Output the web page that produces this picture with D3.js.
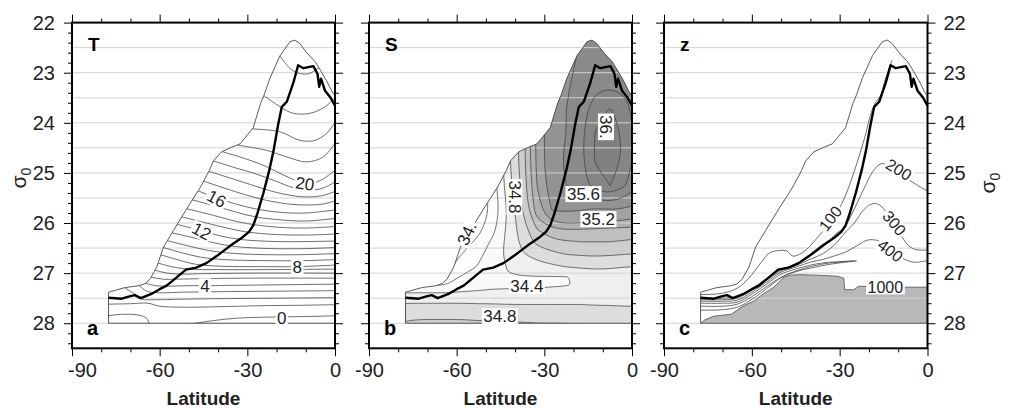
<!DOCTYPE html>
<html>
<head>
<meta charset="utf-8">
<script src="https://cdn.jsdelivr.net/npm/d3@7"></script>
<style>
  body { margin: 0; background: #fff; }
  text { font-family: "Liberation Sans", Arial, Helvetica, sans-serif; }
</style>
</head>
<body>
<svg id="fig" width="1010" height="409"></svg>
<script>
// axes
var latMajor = [-90, -60, -30, 0];
var latMinor = [-80, -70, -50, -40, -20, -10];
var sigMajor = [22, 23, 24, 25, 26, 27, 28];
var sigGrid = [22.5, 23, 23.5, 24, 24.5, 25, 25.5, 26, 26.5, 27, 27.5, 28];

// top of the data (outcrop) and the thick line, [lat, sigma0]
var outcrop = [[-77.5,27.38],[-72,27.29],[-67,27.25],[-65,27.21],[-63.3,27.12],[-61,26.88],[-58.7,26.48],
  [-55.3,26.15],[-50.8,25.72],[-46.2,25.3],[-43,24.95],[-41.6,24.76],[-38.8,24.58],[-35.9,24.5],[-32.5,24.42],
  [-28,24.1],[-25.5,23.62],[-24.3,23.45],[-22.2,23.1],[-18.8,22.66],[-15.4,22.38],[-13.7,22.35],[-12,22.42],
  [-9.7,22.6],[-6.8,22.78],[-5,22.95],[-3,23.15],[-1,23.38],[0,23.46]];
var mixedLayer = [[-77.5,27.49],[-73,27.51],[-70,27.46],[-68.5,27.44],[-66.5,27.5],[-63,27.42],[-60,27.32],
  [-57.6,27.25],[-54.5,27.1],[-51,26.93],[-47.5,26.89],[-44,26.8],[-40.5,26.66],[-36,26.46],[-32,26.3],
  [-29.5,26.18],[-28,26.05],[-26.5,25.8],[-24.5,25.4],[-22.5,24.95],[-21,24.55],[-19.5,24.05],[-18.2,23.68],
  [-16.5,23.58],[-14.3,23.21],[-12.6,22.85],[-10.8,22.91],[-7.4,22.87],[-6,23.02],[-5.4,23.28],[-4.8,23.12],
  [-3.4,23.36],[-1.5,23.5],[0,23.66]];

// panel a: temperature contours, 1 degree apart
var tempContours = [
  [[-50,28.02],[-42,27.95],[-34,27.9],[-25,27.88],[-15,27.87],[-5,27.86],[0,27.85]],
  [[-78,27.85],[-72,27.82],[-67,27.84],[-64.5,27.9],[-63.5,28.02]],
  [[-78,27.62],[-70,27.61],[-64,27.6],[-60,27.66],[-50,27.68],[-40,27.67],[-25,27.65],[-10,27.64],[0,27.63]],
  [[-72,27.29],[-69,27.4],[-66,27.52],[-62,27.53],[-52,27.52],[-40,27.51],[-20,27.5],[0,27.49]],
  [[-67,27.25],[-64.5,27.36],[-61,27.39],[-52,27.38],[-40,27.37],[-20,27.36],[0,27.35]],
  [[-64.8,27.2],[-61.5,27.25],[-57,27.26],[-50,27.25],[-44,27.25],[-30,27.24],[-15,27.23],[0,27.22]],
  [[-62.8,27.08],[-59,27.12],[-54,27.12],[-45,27.11],[-30,27.1],[0,27.1]],
  [[-61.6,26.94],[-57.5,27.0],[-52,27.02],[-45,27.01],[-30,27.0],[0,27.0]],
  [[-60.5,26.8],[-56,26.87],[-50,26.92],[-40,26.93],[-25,26.93],[0,26.92]],
  [[-59.3,26.64],[-54,26.73],[-48,26.82],[-40,26.86],[-25,26.87],[-13,26.87],[0,26.84]],
  [[-58.1,26.5],[-52,26.6],[-46,26.68],[-38,26.73],[-25,26.75],[-10,26.75],[0,26.73]],
  [[-56.8,26.36],[-50,26.46],[-43,26.55],[-36,26.6],[-25,26.63],[-10,26.63],[0,26.61]],
  [[-55.4,26.2],[-48,26.3],[-41,26.4],[-34,26.47],[-22,26.51],[-10,26.51],[0,26.49]],
  [[-53.8,26.03],[-46,26.15],[-39,26.26],[-32,26.33],[-20,26.37],[-10,26.37],[0,26.36]],
  [[-52.2,25.88],[-44,26.0],[-37,26.1],[-30,26.18],[-20,26.23],[-10,26.24],[0,26.22]],
  [[-50.4,25.72],[-42,25.84],[-35,25.95],[-28,26.03],[-18,26.09],[-10,26.1],[0,26.07]],
  [[-48.6,25.54],[-41,25.66],[-34,25.78],[-27,25.88],[-18,25.94],[-10,25.96],[0,25.91]],
  [[-46.8,25.36],[-40.5,25.5],[-34,25.62],[-27,25.72],[-18,25.79],[-10,25.8],[0,25.74]],
  [[-45.2,25.16],[-38,25.3],[-31,25.43],[-24,25.54],[-16,25.62],[-10,25.64],[-4,25.62],[0,25.56]],
  [[-43.6,24.96],[-36,25.1],[-29,25.23],[-22,25.36],[-15,25.45],[-9,25.48],[-4,25.45],[0,25.37]],
  [[-41.7,24.76],[-34,24.9],[-27,25.02],[-20,25.17],[-14,25.3],[-9,25.35],[-4,25.3],[0,25.18]],
  [[-38.4,24.58],[-31,24.71],[-24,24.86],[-17,25.06],[-10,25.21],[-5,25.15],[0,24.95]],
  [[-32.6,24.45],[-23.4,24.55],[-16.5,24.68],[-9.7,24.78],[-4,24.68],[0,24.41]],
  [[-28,24.12],[-18.8,24.18],[-12,24.35],[-6.8,24.35],[-2.9,24.21],[0,24.0]],
  [[-25.2,23.42],[-18.8,23.68],[-14.3,23.81],[-8.5,23.81],[-3.4,23.68],[0,23.5]],
  [[-18.9,22.66],[-16,22.88],[-13,23.0],[-9,23.02],[-6,22.92]]
];
var tempLabels = [
  {t: "20", lat: -10.3, sig: 25.21, rot: 8},
  {t: "16", lat: -40.5, sig: 25.51, rot: 28},
  {t: "12", lat: -45.6, sig: 26.16, rot: 28},
  {t: "8", lat: -12.9, sig: 26.87, rot: 0},
  {t: "4", lat: -44.5, sig: 27.25, rot: 0},
  {t: "0", lat: -18.2, sig: 27.89, rot: 0}
];

// panel b: salinity read on a lat x sigma0 grid (rows = sigma0)
var saltLat = [-85,-70,-65,-60,-55,-50,-45,-40,-35,-30,-25,-20,-15,-10,-5,0,5];
var saltSig = [22.0,22.5,23.0,23.5,24.0,24.5,25.0,25.5,26.0,26.25,26.5,26.75,27.0,27.15,27.3,27.5,27.75,28.0,28.25];
var salinity = [
  [33.8,33.8,33.8,33.8,33.9,34.1,34.5,34.9,35.4,35.7,35.75,35.8,35.85,35.85,35.8,35.75,35.75],
  [33.8,33.8,33.8,33.8,33.9,34.1,34.5,34.9,35.4,35.7,35.76,35.82,35.9,35.92,35.86,35.78,35.78],
  [33.8,33.8,33.8,33.8,33.9,34.1,34.5,34.9,35.42,35.72,35.78,35.86,35.95,35.97,35.94,35.82,35.82],
  [33.8,33.8,33.8,33.8,33.9,34.1,34.5,34.9,35.44,35.74,35.8,35.9,36.12,36.22,36.1,35.86,35.86],
  [33.8,33.8,33.8,33.8,33.9,34.1,34.5,34.9,35.45,35.75,35.8,35.95,36.22,36.32,36.16,35.88,35.88],
  [33.8,33.8,33.8,33.8,33.9,34.1,34.55,34.9,35.45,35.75,35.82,35.95,36.22,36.32,36.16,35.88,35.88],
  [33.8,33.8,33.8,33.8,33.9,34.12,34.5,34.85,35.4,35.72,35.8,35.9,36.1,36.2,36.02,35.8,35.8],
  [33.8,33.8,33.8,33.8,33.85,34.05,34.42,34.8,35.3,35.6,35.62,35.6,35.55,35.58,35.56,35.52,35.52],
  [33.8,33.8,33.8,33.8,33.95,34.15,34.45,34.7,35.0,35.15,35.2,35.2,35.18,35.16,35.14,35.12,35.12],
  [33.8,33.8,33.85,33.92,34.05,34.25,34.45,34.65,34.85,34.95,34.98,35.0,35.0,35.0,34.98,34.96,34.96],
  [33.8,33.85,33.9,34.02,34.15,34.3,34.45,34.58,34.68,34.75,34.8,34.82,34.83,34.82,34.8,34.79,34.79],
  [33.85,33.9,33.98,34.1,34.22,34.32,34.41,34.46,34.52,34.56,34.6,34.62,34.63,34.62,34.6,34.6,34.6],
  [33.95,33.98,34.1,34.25,34.33,34.37,34.39,34.39,34.39,34.39,34.395,34.43,34.47,34.49,34.5,34.5,34.5],
  [34.12,34.15,34.22,34.3,34.34,34.36,34.36,34.37,34.37,34.38,34.39,34.42,34.45,34.47,34.48,34.48,34.48],
  [34.41,34.41,34.41,34.42,34.42,34.43,34.43,34.43,34.43,34.44,34.44,34.46,34.48,34.49,34.5,34.5,34.5],
  [34.62,34.62,34.62,34.62,34.61,34.61,34.6,34.6,34.6,34.6,34.6,34.6,34.59,34.59,34.58,34.58,34.58],
  [34.78,34.78,34.78,34.78,34.77,34.77,34.76,34.76,34.75,34.75,34.75,34.74,34.74,34.73,34.72,34.72,34.72],
  [34.88,34.88,34.88,34.88,34.87,34.87,34.86,34.86,34.85,34.85,34.85,34.84,34.84,34.83,34.82,34.82,34.82],
  [34.9,34.9,34.9,34.9,34.9,34.9,34.9,34.9,34.9,34.9,34.9,34.9,34.9,34.9,34.9,34.9,34.9]
];
var saltLevels = [34.0, 34.2, 34.4, 34.6, 34.8, 35.0, 35.2, 35.4, 35.6, 35.8, 36.0, 36.2];
var saltLabels = [
  {t: "36.", lat: -8.7, sig: 24.08, rot: 90},
  {t: "35.6", lat: -16.6, sig: 25.41, rot: 0},
  {t: "35.2", lat: -11.5, sig: 25.91, rot: 0},
  {t: "34.8", lat: -40, sig: 25.48, rot: 90},
  {t: "34.", lat: -56.6, sig: 26.21, rot: -65},
  {t: "34.4", lat: -36, sig: 27.25, rot: 0},
  {t: "34.8", lat: -45.2, sig: 27.85, rot: 0}
];

// panel c: depth (m) of the isopycnals
var depth1000 = [[-77.5,28.0],[-76,27.93],[-73,27.86],[-67,27.82],[-64.5,27.72],[-62.8,27.65],[-59.4,27.56],
  [-56,27.41],[-53,27.3],[-51.4,27.22],[-49,27.08],[-46.9,27.04],[-44,27.03],[-38,27.04],[-30.9,27.06],
  [-28.6,27.1],[-28.3,27.33],[-25.2,27.33],[-23.5,27.26],[-20,27.27],[-8,27.28],[0,27.28]];
var depthContours = [
  // 100
  [[-77.5,27.43],[-70,27.4],[-65,27.3],[-61,27.1],[-57,26.8],[-54,26.6],[-51,26.55],[-48,26.56],[-46,26.66],
   [-43,26.6],[-40,26.45],[-37,26.25],[-34,26.05],[-31,25.8],[-28,25.45],[-25.5,25.05],[-23,24.6],[-21,24.2],
   [-19.5,23.85],[-18,23.62],[-16,23.45],[-14.5,23.15],[-13,22.9]],
  // 200
  [[-77.5,27.5],[-70,27.5],[-65,27.47],[-60,27.31],[-55,27.11],[-50,26.92],[-45,26.83],[-40,26.66],[-35,26.44],
   [-31,26.2],[-28.5,26.1],[-25.5,25.78],[-22,25.35],[-18.4,24.95],[-16,24.82],[-13,24.85],[-10,24.98],
   [-6,25.15],[-2.5,25.28],[0,25.36]],
  // 300
  [[-77.5,27.53],[-70,27.53],[-65,27.5],[-60,27.34],[-55,27.14],[-50,26.95],[-45,26.85],[-40,26.72],[-36,26.62],
   [-32,26.45],[-28,26.18],[-25,26.0],[-22,25.75],[-19.5,25.63],[-17,25.62],[-14.5,25.75],[-12,25.98],
   [-9,26.25],[-6.5,26.45],[-4,26.53],[0,26.54]],
  // 400
  [[-77.5,27.56],[-70,27.56],[-65,27.54],[-60,27.38],[-55,27.18],[-50,26.98],[-45,26.88],[-40,26.78],[-36,26.73],
   [-32,26.66],[-28,26.58],[-24,26.45],[-20.5,26.34],[-17,26.35],[-14,26.45],[-11,26.6],[-8,26.72],[-5,26.78],
   [-2,26.77],[0,26.75]],
  // 500, 600, 800
  [[-77.5,27.6],[-70,27.6],[-65,27.58],[-60,27.42],[-55,27.22],[-50,27.02],[-45,26.92],[-40,26.84],[-35,26.79],[-30,26.77],[-27,26.76]],
  [[-77.5,27.66],[-70,27.66],[-65,27.62],[-60,27.47],[-55,27.27],[-50,27.08],[-45,26.96],[-40,26.87],[-35,26.81],[-30,26.78],[-27,26.77]],
  [[-77.5,27.74],[-70,27.73],[-65,27.68],[-61,27.56],[-57,27.4],[-53,27.22],[-49,27.06],[-45,26.97],[-40,26.9],[-34,26.83],[-28,26.78]]
];
var depthLabels = [
  {t: "100", lat: -33.2, sig: 25.91, rot: -52},
  {t: "200", lat: -9.8, sig: 24.93, rot: 31},
  {t: "300", lat: -11.3, sig: 26.0, rot: 50},
  {t: "400", lat: -12.7, sig: 26.55, rot: 37},
  {t: "1000", lat: -14.4, sig: 27.28, rot: 0}
];

var fig = d3.select("#fig");
var defs = fig.append("defs");
var y = d3.scaleLinear().domain([22, 28.5]).range([22.6, 348.3]);
var sigMinor = d3.range(0, 33).map(function (i) { return 22 + i * 0.2; })
  .filter(function (v) { return Math.abs(v - Math.round(v)) > 0.01; });

var panels = [
  {x0: 72, x1: 335, name: "T", letter: "a", labels: tempLabels, fs: 17},
  {x0: 369, x1: 632, name: "S", letter: "b", labels: saltLabels, fs: 17},
  {x0: 664, x1: 927.5, name: "z", letter: "c", labels: depthLabels, fs: 16}
];

function extendEnds(pts, len) {
  var ext = function (a, b) {
    var dx = a[0] - b[0], dy = a[1] - b[1], L = Math.hypot(dx, dy) || 1;
    return [a[0] + dx / L * len, a[1] + dy / L * len];
  };
  var n = pts.length;
  return [ext(pts[0], pts[1])].concat(pts, [ext(pts[n - 1], pts[n - 2])]);
}

function saltBands(x) {
  var nx = saltLat.length, ny = saltSig.length;
  var gx = d3.scaleLinear().domain(d3.range(nx)).range(saltLat);
  var gy = d3.scaleLinear().domain(d3.range(ny)).range(saltSig);
  var bands = d3.contours().size([nx, ny]).thresholds(saltLevels)(salinity.flat());
  var ring = d3.line().curve(d3.curveBasisClosed);
  bands.forEach(function (b) {
    b.d = b.coordinates.map(function (poly) {
      return poly.map(function (r) {
        return ring(r.slice(0, -1).map(function (q) { return [x(gx(q[0])), y(gy(q[1]))]; }));
      }).join("");
    }).join("");
  });
  return bands;
}

var saltShade = d3.scaleLinear()
  .domain([34.0, 34.4, 34.6, 34.8, 35.2, 35.6, 35.8, 36.2])
  .range(["#ffffff", "#f8f8f8", "#e6e6e6", "#d4d4d4", "#b8b8b8", "#9a9a9a", "#8c8c8c", "#828282"]);

panels.forEach(function (p, k) {
  var x = d3.scaleLinear().domain([-90, 0]).range([p.x0, p.x1]);
  var line = d3.line().x(function (d) { return x(d[0]); }).y(function (d) { return y(d[1]); });
  var smooth = d3.line().curve(d3.curveCatmullRom.alpha(0.5));
  var toPx = function (pts) { return pts.map(function (d) { return [x(d[0]), y(d[1])]; }); };
  var boundary = [[-77.5, 28]].concat(outcrop, [[0, 28]]);
  defs.append("clipPath").attr("id", "clip" + k).append("path").attr("d", line(boundary) + "Z");

  var g = fig.append("g");
  var under = g.append("g").attr("clip-path", "url(#clip" + k + ")");
  var bands = null;
  if (k === 1) {
    bands = saltBands(x);
    under.selectAll("path").data(bands).join("path")
      .attr("d", function (b) { return b.d; })
      .attr("fill-rule", "evenodd")
      .attr("fill", function (b) { return saltShade(b.value + 0.1); });
  }
  if (k === 2) {
    under.append("path").attr("d", line(depth1000.concat([[0, 28]])) + "Z").attr("fill", "#b8b8b8");
  }

  // horizontal grid
  g.append("g").selectAll("line").data(sigGrid).join("line")
    .attr("x1", p.x0).attr("x2", p.x1)
    .attr("y1", function (d) { return y(d); }).attr("y2", function (d) { return y(d); })
    .attr("stroke", "#d2d2d2").attr("stroke-width", 1);

  var over = g.append("g").attr("clip-path", "url(#clip" + k + ")")
    .attr("fill", "none").attr("stroke", "#4a4a4a").attr("stroke-width", 0.8);
  if (k === 0) {
    tempContours.forEach(function (c) {
      over.append("path").attr("d", smooth(extendEnds(toPx(c), 8)));
    });
  }
  if (k === 1) {
    over.selectAll("path").data(bands).join("path")
      .attr("d", function (b) { return b.d; })
      .attr("stroke", "#3c3c3c").attr("stroke-width", 0.7);
  }
  if (k === 2) {
    over.append("path").attr("d", line(depth1000));
    depthContours.forEach(function (c) {
      over.append("path").attr("d", smooth(extendEnds(toPx(c), 8)));
    });
  }

  // data boundary and the thick line
  g.append("path").attr("d", line(boundary) + "Z")
    .attr("fill", "none").attr("stroke", "#4a4a4a").attr("stroke-width", 0.9);
  g.append("path").attr("d", line(mixedLayer))
    .attr("fill", "none").attr("stroke", "#000").attr("stroke-width", 2.4)
    .attr("stroke-linejoin", "round");

  // contour labels
  p.labels.forEach(function (d) {
    var lg = g.append("g").attr("transform",
      "translate(" + x(d.lat) + "," + y(d.sig) + ") rotate(" + d.rot + ")");
    var bg = lg.append("rect").attr("fill", "#fff");
    var tx = lg.append("text").attr("text-anchor", "middle").attr("dy", "0.36em")
      .attr("font-size", p.fs).attr("fill", "#222").text(d.t);
    var b = tx.node().getBBox();
    bg.attr("x", b.x - 1.5).attr("y", b.y + 1.5).attr("width", b.width + 3).attr("height", b.height - 3);
  });

  // frame and ticks
  var top = y(22), bot = y(28.5);
  var ax = function (axis, tr) {
    var a = g.append("g").attr("transform", tr).call(axis);
    a.select(".domain").remove();
    a.attr("font-size", 20).attr("font-family", null).selectAll("text").attr("fill", "#222");
    a.selectAll("line").attr("stroke", "#000");
    return a;
  };
  ax(d3.axisTop(x).tickValues(latMinor).tickSize(4).tickFormat(""), "translate(0," + top + ")");
  ax(d3.axisTop(x).tickValues(latMajor).tickSize(8).tickFormat(""), "translate(0," + top + ")");
  ax(d3.axisBottom(x).tickValues(latMinor).tickSize(4).tickFormat(""), "translate(0," + bot + ")");
  var xl = ax(d3.axisBottom(x).tickValues(latMajor).tickSize(8).tickPadding(7)
    .tickFormat(function (d) { return String(d); }), "translate(0," + bot + ")");
  if (k === 0) xl.selectAll("text").filter(function (d) { return d === -90; }).attr("dx", 10);
  ax(d3.axisLeft(y).tickValues(sigMinor).tickSize(4).tickFormat(""), "translate(" + p.x0 + ",0)");
  ax(d3.axisLeft(y).tickValues(sigMajor).tickSize(8).tickPadding(9)
    .tickFormat(k === 0 ? function (d) { return String(d); } : ""), "translate(" + p.x0 + ",0)");
  ax(d3.axisRight(y).tickValues(sigMinor).tickSize(4).tickFormat(""), "translate(" + p.x1 + ",0)");
  ax(d3.axisRight(y).tickValues(sigMajor).tickSize(8).tickPadding(8)
    .tickFormat(k === 2 ? function (d) { return String(d); } : ""), "translate(" + p.x1 + ",0)");
  g.append("rect").attr("x", p.x0).attr("y", top).attr("width", p.x1 - p.x0).attr("height", bot - top)
    .attr("fill", "none").attr("stroke", "#000").attr("stroke-width", 2);

  // panel letters and axis title
  g.append("text").attr("x", p.x0 + 16).attr("y", 51).attr("font-size", 19).attr("font-weight", "bold").text(p.name);
  g.append("text").attr("x", p.x0 + 15).attr("y", 335).attr("font-size", 20).attr("font-weight", "bold").text(p.letter);
  g.append("text").attr("x", (p.x0 + p.x1) / 2).attr("y", 405).attr("text-anchor", "middle")
    .attr("font-size", 19).attr("font-weight", "bold").attr("fill", "#222").text("Latitude");
});

// sigma-0 axis titles
[[26, 178], [995, 183]].forEach(function (pos) {
  var t = fig.append("text").attr("transform", "translate(" + pos[0] + "," + pos[1] + ") rotate(-90)")
    .attr("text-anchor", "middle").attr("font-size", 21).attr("fill", "#222").text("\u03c3");
  t.append("tspan").attr("dy", 5).attr("font-size", 14).text("0");
});
</script>
</body>
</html>
